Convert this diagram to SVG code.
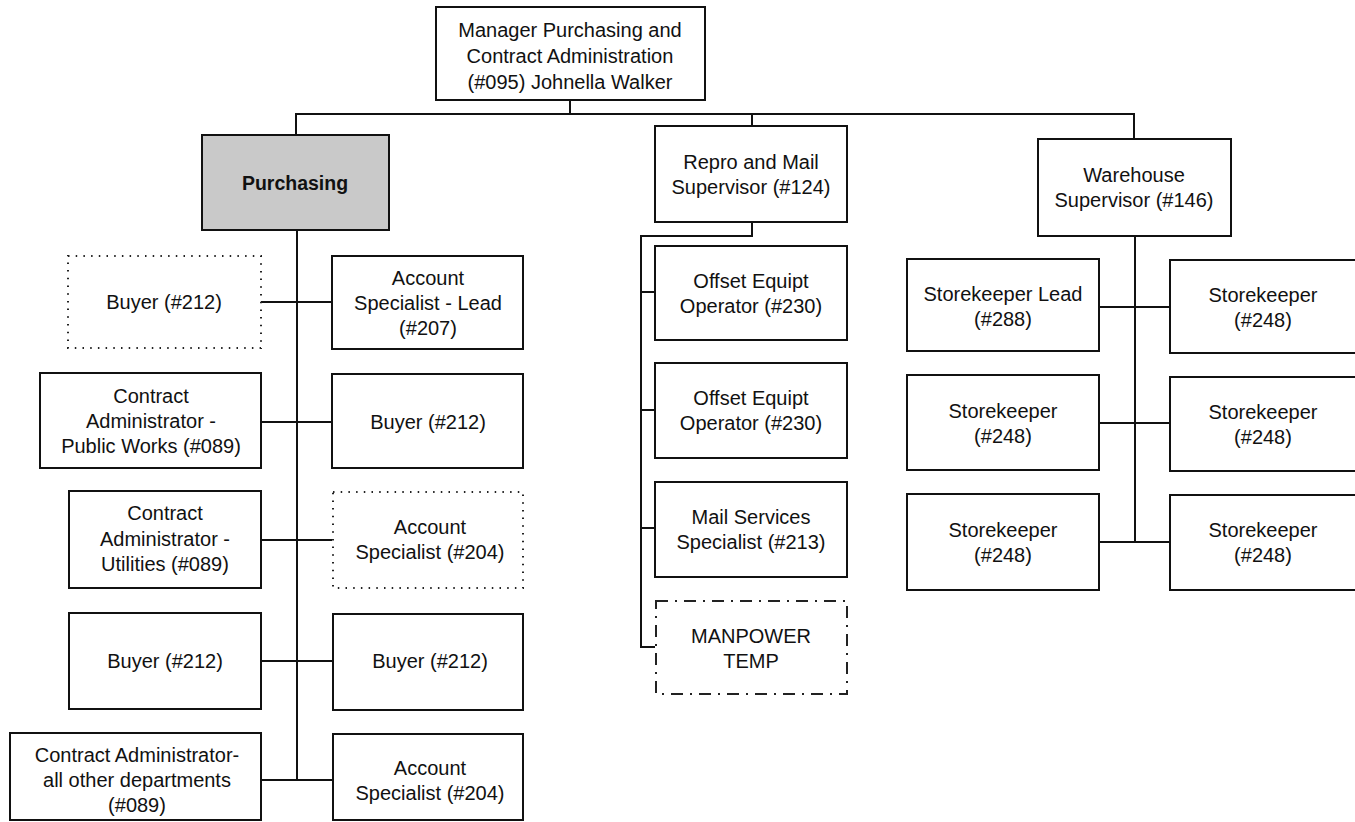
<svg xmlns="http://www.w3.org/2000/svg" width="1355" height="822" viewBox="0 0 1355 822">
  <style>
    .box { fill: #ffffff; stroke: #111111; stroke-width: 2; }
    .shaded { fill: #c9c9c9; stroke: #111111; stroke-width: 2; }
    .dotted { fill: #ffffff; stroke: #222222; stroke-width: 2; stroke-dasharray: 1.5 6.2; }
    .dashdot { fill: #ffffff; stroke: #222222; stroke-width: 2; stroke-dasharray: 12 7 2 7; }
    .line { fill: none; stroke: #111111; stroke-width: 2; }
    text { font-family: "Liberation Sans", Arial, sans-serif; font-size: 20px; fill: #111111; text-anchor: middle; }
    .bold { font-weight: bold; font-size: 19.5px; }
  </style>

  <!-- reporting lines -->
  <g id="connectors">
    <!-- manager to top bus -->
    <path class="line" d="M570 100 V114"/>
    <path class="line" d="M296 135 V114 H1134 V139"/>
    <path class="line" d="M752 114 V126"/>
    <!-- purchasing spine and rows -->
    <path class="line" d="M297 230 V780"/>
    <path class="line" d="M261 302 H332"/>
    <path class="line" d="M261 422 H332"/>
    <path class="line" d="M261 540 H332"/>
    <path class="line" d="M261 661 H332"/>
    <path class="line" d="M261 780 H332"/>
    <!-- repro and mail branch -->
    <path class="line" d="M752 222 V236 H641 V647 H655"/>
    <path class="line" d="M641 292 H655"/>
    <path class="line" d="M641 410 H655"/>
    <path class="line" d="M641 528 H655"/>
    <!-- warehouse spine and rows -->
    <path class="line" d="M1135 236 V542"/>
    <path class="line" d="M1099 307 H1170"/>
    <path class="line" d="M1099 423 H1170"/>
    <path class="line" d="M1099 542 H1170"/>
  </g>

  <g id="manager">
    <rect class="box" x="436" y="7" width="269" height="93"/>
    <text x="570" y="37">Manager Purchasing and</text>
    <text x="570" y="63">Contract Administration</text>
    <text x="570" y="89">(#095) Johnella Walker</text>
  </g>

  <g id="purchasing">
    <rect class="shaded" x="202" y="135" width="187" height="95"/>
    <text class="bold" x="295" y="190">Purchasing</text>
  </g>

  <g id="buyer-vacant">
    <rect class="dotted" x="68" y="256" width="193" height="92"/>
    <text x="164" y="309">Buyer (#212)</text>
  </g>
  <g id="account-specialist-lead">
    <rect class="box" x="332" y="256" width="191" height="93"/>
    <text x="428" y="285">Account</text>
    <text x="428" y="310">Specialist - Lead</text>
    <text x="428" y="335">(#207)</text>
  </g>

  <g id="contract-admin-public-works">
    <rect class="box" x="40" y="373" width="221" height="95"/>
    <text x="151" y="403">Contract</text>
    <text x="151" y="428">Administrator -</text>
    <text x="151" y="453">Public Works (#089)</text>
  </g>
  <g id="buyer-2">
    <rect class="box" x="332" y="374" width="191" height="94"/>
    <text x="428" y="429">Buyer (#212)</text>
  </g>

  <g id="contract-admin-utilities">
    <rect class="box" x="69" y="491" width="192" height="97"/>
    <text x="165" y="520">Contract</text>
    <text x="165" y="546">Administrator -</text>
    <text x="165" y="571">Utilities (#089)</text>
  </g>
  <g id="account-specialist-vacant">
    <rect class="dotted" x="333" y="492" width="190" height="96"/>
    <text x="430" y="534">Account</text>
    <text x="430" y="559">Specialist (#204)</text>
  </g>

  <g id="buyer-3">
    <rect class="box" x="69" y="613" width="192" height="96"/>
    <text x="165" y="668">Buyer (#212)</text>
  </g>
  <g id="buyer-4">
    <rect class="box" x="333" y="614" width="190" height="96"/>
    <text x="430" y="668">Buyer (#212)</text>
  </g>

  <g id="contract-admin-other">
    <rect class="box" x="10" y="733" width="251" height="87"/>
    <text x="137" y="762">Contract Administrator-</text>
    <text x="137" y="787">all other departments</text>
    <text x="137" y="812">(#089)</text>
  </g>
  <g id="account-specialist-2">
    <rect class="box" x="333" y="734" width="190" height="86"/>
    <text x="430" y="775">Account</text>
    <text x="430" y="800">Specialist (#204)</text>
  </g>

  <g id="repro-mail-supervisor">
    <rect class="box" x="655" y="126" width="192" height="96"/>
    <text x="751" y="169">Repro and Mail</text>
    <text x="751" y="194">Supervisor (#124)</text>
  </g>
  <g id="offset-operator-1">
    <rect class="box" x="655" y="246" width="192" height="94"/>
    <text x="751" y="288">Offset Equipt</text>
    <text x="751" y="313">Operator (#230)</text>
  </g>
  <g id="offset-operator-2">
    <rect class="box" x="655" y="363" width="192" height="95"/>
    <text x="751" y="405">Offset Equipt</text>
    <text x="751" y="430">Operator (#230)</text>
  </g>
  <g id="mail-services-specialist">
    <rect class="box" x="655" y="482" width="192" height="95"/>
    <text x="751" y="524">Mail Services</text>
    <text x="751" y="549">Specialist (#213)</text>
  </g>
  <g id="manpower-temp">
    <rect class="dashdot" x="656" y="601" width="191" height="93"/>
    <text x="751" y="643">MANPOWER</text>
    <text x="751" y="668">TEMP</text>
  </g>

  <g id="warehouse-supervisor">
    <rect class="box" x="1038" y="139" width="193" height="97"/>
    <text x="1134" y="182">Warehouse</text>
    <text x="1134" y="207">Supervisor (#146)</text>
  </g>
  <g id="storekeeper-lead">
    <rect class="box" x="907" y="259" width="192" height="92"/>
    <text x="1003" y="301">Storekeeper Lead</text>
    <text x="1003" y="326">(#288)</text>
  </g>
  <g id="storekeeper-1">
    <rect class="box" x="1170" y="260" width="200" height="93"/>
    <text x="1263" y="302">Storekeeper</text>
    <text x="1263" y="327">(#248)</text>
  </g>
  <g id="storekeeper-2">
    <rect class="box" x="907" y="375" width="192" height="95"/>
    <text x="1003" y="418">Storekeeper</text>
    <text x="1003" y="443">(#248)</text>
  </g>
  <g id="storekeeper-3">
    <rect class="box" x="1170" y="377" width="200" height="94"/>
    <text x="1263" y="419">Storekeeper</text>
    <text x="1263" y="444">(#248)</text>
  </g>
  <g id="storekeeper-4">
    <rect class="box" x="907" y="494" width="192" height="96"/>
    <text x="1003" y="537">Storekeeper</text>
    <text x="1003" y="562">(#248)</text>
  </g>
  <g id="storekeeper-5">
    <rect class="box" x="1170" y="495" width="200" height="95"/>
    <text x="1263" y="537">Storekeeper</text>
    <text x="1263" y="562">(#248)</text>
  </g>
</svg>
